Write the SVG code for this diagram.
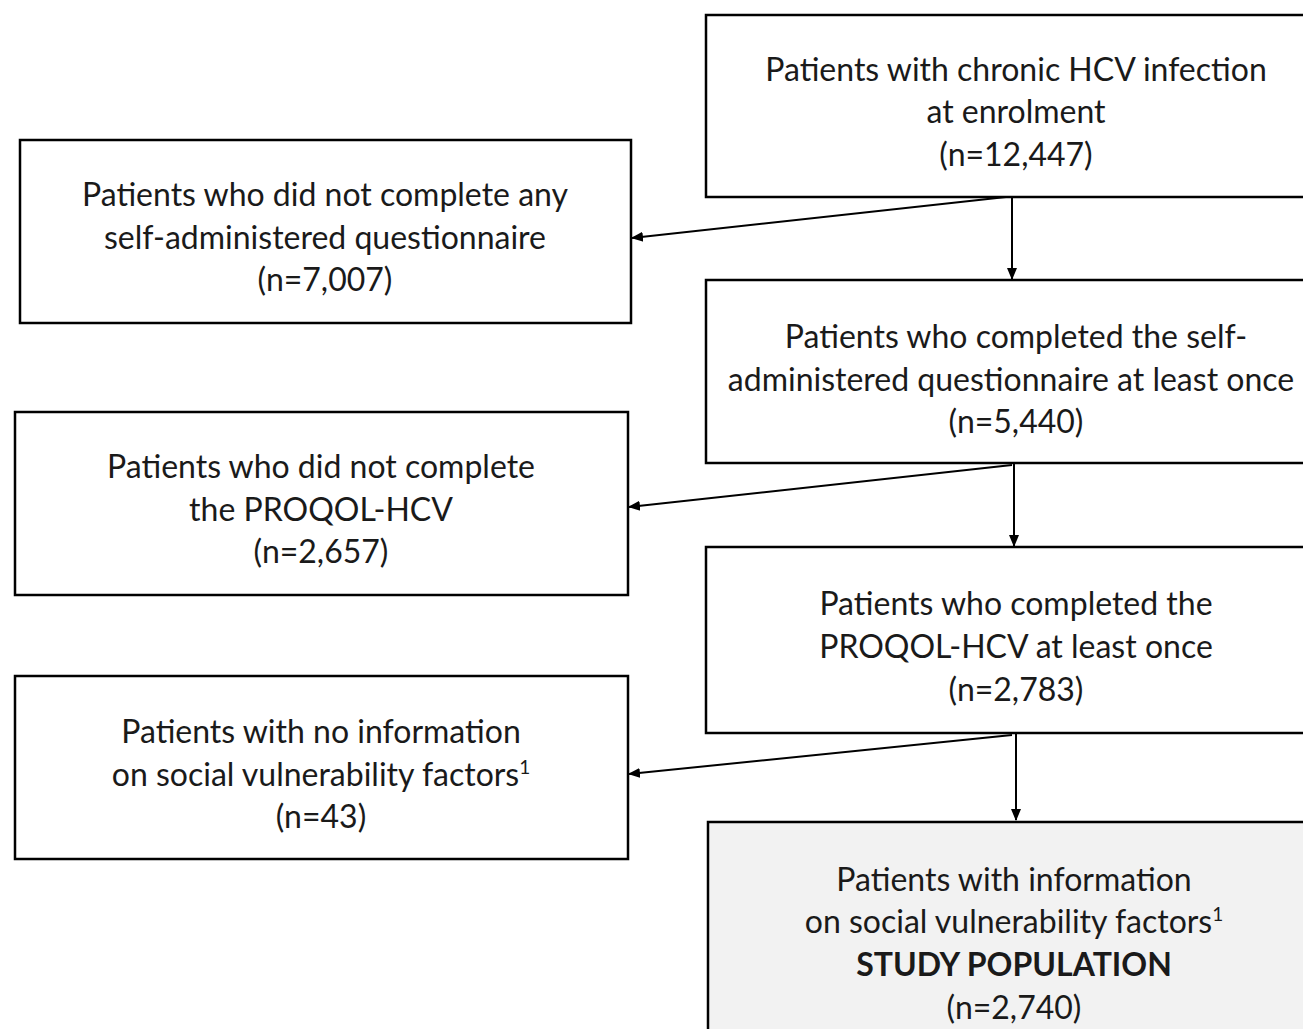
<svg xmlns="http://www.w3.org/2000/svg" width="1303" height="1029" viewBox="0 0 1303 1029">
<defs>
<marker id="ah" markerWidth="12" markerHeight="12" refX="11" refY="6" orient="auto" markerUnits="userSpaceOnUse">
<path d="M0,1 L12,6 L0,11 Z" fill="#000"/>
</marker>
<style>
.box{fill:#fff;stroke:#000;stroke-width:2.5}
.gray{fill:#f2f2f2}
text{font-family:Lato,"Liberation Sans",sans-serif;font-size:32px;fill:#1a1a1a;text-anchor:middle}
.b{font-weight:bold}
.sup{font-size:19px}
.c{stroke:#000;stroke-width:2;fill:none;marker-end:url(#ah)}
</style>
</defs>
<rect width="1303" height="1029" fill="#fff"/>
<g id="n1"><rect class="box" x="706" y="15" width="640" height="182"/>
<text x="1016" y="81">Patients with chronic HCV infection</text>
<text x="1016" y="123">at enrolment</text>
<text x="1016" y="166">(n=12,447)</text></g>
<g id="n2"><rect class="box" x="706" y="280" width="640" height="183"/>
<text x="1016" y="348">Patients who completed the self-</text>
<text x="1011" y="391">administered questionnaire at least once</text>
<text x="1016" y="433">(n=5,440)</text></g>
<g id="n3"><rect class="box" x="706" y="547" width="640" height="186"/>
<text x="1016" y="615">Patients who completed the</text>
<text x="1016" y="658">PROQOL-HCV at least once</text>
<text x="1016" y="701">(n=2,783)</text></g>
<g id="n4"><rect class="box gray" x="708" y="822" width="640" height="260"/>
<text x="1014" y="891">Patients with information</text>
<text x="1014" y="933">on social vulnerability factors<tspan class="sup" dy="-12">1</tspan></text>
<text x="1014" y="976" class="b">STUDY POPULATION</text>
<text x="1014" y="1019">(n=2,740)</text></g>
<g id="l1"><rect class="box" x="20" y="140" width="611" height="183"/>
<text x="325" y="206">Patients who did not complete any</text>
<text x="325" y="249">self-administered questionnaire</text>
<text x="325" y="291">(n=7,007)</text></g>
<g id="l2"><rect class="box" x="15" y="412" width="613" height="183"/>
<text x="321" y="478">Patients who did not complete</text>
<text x="321" y="521">the PROQOL-HCV</text>
<text x="321" y="563">(n=2,657)</text></g>
<g id="l3"><rect class="box" x="15" y="676" width="613" height="183"/>
<text x="321" y="743">Patients with no information</text>
<text x="321" y="786">on social vulnerability factors<tspan class="sup" dy="-12">1</tspan></text>
<text x="321" y="828">(n=43)</text></g>
<g id="connectors">
<line class="c" x1="1012" y1="197" x2="1012" y2="279"/>
<line class="c" x1="1006" y1="197" x2="632" y2="238"/>
<line class="c" x1="1014" y1="463" x2="1014" y2="546"/>
<line class="c" x1="1012" y1="465" x2="629" y2="507"/>
<line class="c" x1="1016" y1="733" x2="1016" y2="820"/>
<line class="c" x1="1012" y1="735" x2="629" y2="774"/>
</g>
</svg>
